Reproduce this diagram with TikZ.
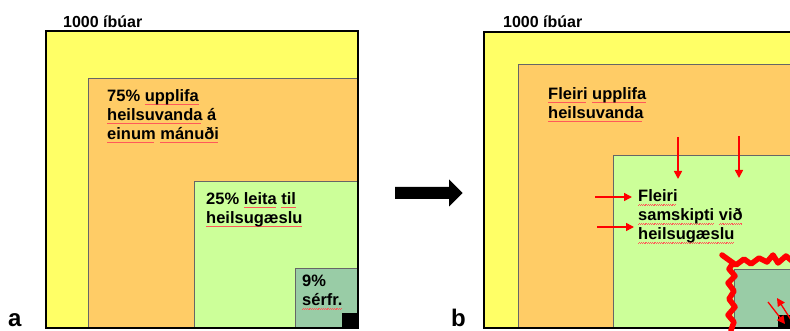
\documentclass[tikz,border=0pt]{standalone}
\usepackage{fontspec}
\setmainfont{Liberation Sans}
\usetikzlibrary{arrows.meta}
\definecolor{cyel}{RGB}{255,255,102}
\definecolor{corg}{RGB}{255,204,102}
\definecolor{cgrn}{RGB}{204,255,153}
\definecolor{cdgr}{RGB}{153,204,166}
\newsavebox\splbox
\newcommand\spl[1]{\sbox\splbox{#1}\rlap{\color{red!65}\leaders\hbox{\rule[-3.6pt]{0.9pt}{0.45pt}\rule[-2.9pt]{0.9pt}{0.45pt}}\hskip\wd\splbox}\usebox\splbox}
\begin{document}
\begin{tikzpicture}[x=1pt,y=-1pt,
  box/.style={draw=black!60, line width=0.7pt},
  outerbox/.style={draw=black, line width=2pt},
  lbl/.style={font=\fontsize{16.5}{19}\selectfont\bfseries, anchor=north west, inner sep=0pt, align=left},
  toplbl/.style={font=\fontsize{16}{19}\selectfont\bfseries, anchor=base west, inner sep=0pt},
  panellbl/.style={font=\fontsize{24}{24}\selectfont\bfseries, anchor=base west, inner sep=0pt},
  redarrow/.style={draw=red, line width=1.6pt, -{Triangle[length=8pt,width=8pt]}},
  jag/.style={draw=red, line width=5.5pt, line join=round, line cap=round}]
\useasboundingbox (0,0) rectangle (790,331);
\clip (0,0) rectangle (790,331);
\fill[white] (0,0) rectangle (790,331);

% ---------- panel a ----------
\fill[cyel] (46,31.5) rectangle (357.5,327.5);
\filldraw[fill=corg, box] (88,78) rectangle (357.5,327.5);
\filldraw[fill=cgrn, box] (194,181) rectangle (357.5,327.5);
\filldraw[fill=cdgr, box] (295,268) rectangle (357.5,327.5);
\fill[black] (342,313) rectangle (357.5,327.5);
\draw[outerbox] (46,31.5) rectangle (357.5,327.5);

\node[toplbl] (ta) at (63,27.5) {1000 íbúar};
\node[panellbl] (la) at (8,326.5) {a};
\node[lbl] (t75) at (107,89) {75\% \spl{upplifa}\\\spl{heilsuvanda} á\\\spl{einum} \spl{mánuði}};
\node[lbl] (t25) at (206,192) {25\% \spl{leita} \spl{til}\\\spl{heilsugæslu}};
\node[lbl] (t9) at (302,275) {9\%\\\spl{sérfr.}};

% ---------- big arrow ----------
\fill[black] (395,187) -- (449,187) -- (449,179.5) -- (462.5,193) -- (449,206.5) -- (449,199) -- (395,199) -- cycle;

% ---------- panel b ----------
\fill[cyel] (484,32) rectangle (800,327.5);
\filldraw[fill=corg, box] (518,64) rectangle (800,327.5);
\filldraw[fill=cgrn, box] (613,155) rectangle (800,327.5);
\filldraw[fill=cdgr, box] (734,269) rectangle (800,327.5);
\fill[black] (778,315) rectangle (800,327.5);
\draw[outerbox] (484,32) rectangle (800,327.5);

\node[toplbl] (tb) at (503,27.5) {1000 íbúar};
\node[panellbl] (lb) at (451,326.5) {b};
\node[lbl] (tfl) at (548,87) {\spl{Fleiri} \spl{upplifa}\\\spl{heilsuvanda}};
\node[lbl] (tsk) at (638,189.5) {\spl{Fleiri}\\\spl{samskipti} \spl{við}\\\spl{heilsugæslu}};

\coordinate (d1s) at (678,137); \coordinate (d1e) at (678,179);
\coordinate (d2s) at (739,136); \coordinate (d2e) at (739,178);
\coordinate (r1s) at (595,197); \coordinate (r1e) at (632,197);
\coordinate (r2s) at (597,227); \coordinate (r2e) at (634,227);
\coordinate (s1s) at (768,302); \coordinate (s1e) at (785,324);
\coordinate (s2s) at (793,323); \coordinate (s2e) at (777,298);
\draw[redarrow] (d1s) -- (d1e);
\draw[redarrow] (d2s) -- (d2e);
\draw[redarrow] (r1s) -- (r1e);
\draw[redarrow] (r2s) -- (r2e);
\draw[redarrow, line width=1.3pt] (s1s) -- (s1e);
\draw[redarrow, line width=1.3pt] (s2s) -- (s2e);

\draw[jag] (731,330) -- (734,322) -- (728,315) -- (735,307) -- (729,299) -- (734,291) -- (728,283) -- (735,276) -- (729,269) -- (733,263) -- (722,255) -- (736,265) -- (744,259) -- (751,264) -- (759,258) -- (767,262) -- (773,255) -- (778,263) -- (786,256) -- (792,261);
\end{tikzpicture}
\end{document}
